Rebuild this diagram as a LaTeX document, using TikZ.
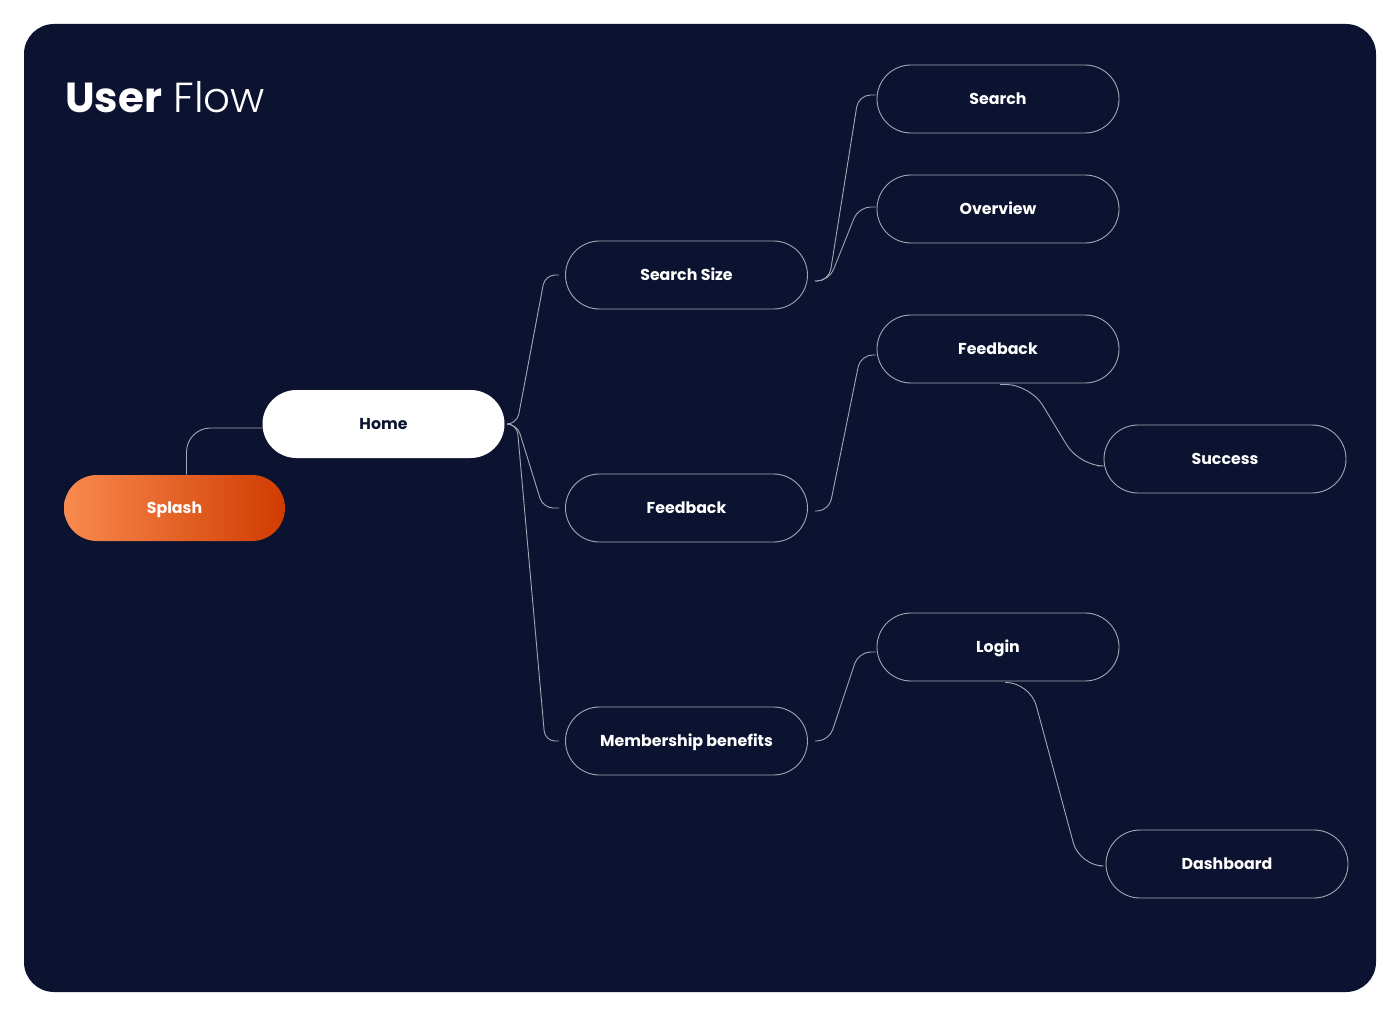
\documentclass[tikz,border=0pt]{standalone}
\usepackage{fontspec}
\setmainfont{Poppins}
\newfontfamily\lightfont{Poppins Light}
\usetikzlibrary{calc}

\definecolor{navy}{HTML}{0B1330}
\definecolor{edgegray}{HTML}{A3A7B3}
\definecolor{orangeA}{HTML}{F98A4F}
\definecolor{orangeB}{HTML}{D03C00}

\begin{document}
\begin{tikzpicture}[x=1pt, y=-1pt,
    pill/.style={draw=edgegray, line width=.9pt, rounded corners=34pt, minimum width=242pt,
      minimum height=68pt, inner sep=0pt, text height=11pt, text depth=0pt, text=white,
      font=\bfseries\fontsize{15.8}{18}\selectfont},
    link/.style={draw=edgegray, line width=.9pt, rounded corners=12pt}]
    \useasboundingbox (0,0) rectangle (1400,1016);
    \fill[white] (0,0) rectangle (1400,1016);
    \fill[navy, rounded corners=30pt] (24,24) rectangle (1376,992);

    % Titulo
    \node[anchor=base west, inner sep=0pt, text=white, font=\fontsize{42}{48}\selectfont] (title) at (65,113)
      {{\bfseries User} {\lightfont Flow}};

    % Nodos
    \node[pill, draw=none, left color=orangeA, right color=orangeB, minimum width=221pt, minimum height=66pt, rounded corners=33pt] (splash) at (174.5,508) {Splash};
    \node[pill, draw=none, fill=white, text=navy] (home) at (383.5,424) {Home};
    \node[pill] (size) at (686.5,275) {Search Size};
    \node[pill] (fbmid) at (686.5,508) {Feedback};
    \node[pill] (member) at (686.5,741) {Membership benefits};
    \node[pill] (search) at (998,99) {Search};
    \node[pill] (overview) at (998,209) {Overview};
    \node[pill] (fbright) at (998,349) {Feedback};
    \node[pill] (login) at (998,647) {Login};
    \node[pill] (success) at (1225,459) {Success};
    \node[pill] (dash) at (1227,864) {Dashboard};

    % Conectores
    \draw[link, rounded corners=24pt] ([xshift=12pt]splash.north) |- ([yshift=-4pt]home.west);

    \draw[link, rounded corners=10pt] ($(home.east)+(2,0)$) -- ++(10,0) -- ($(size.west)+(-20,0)$) -- ($(size.west)+(-6,0)$);
    \draw[link, rounded corners=10pt] ($(home.east)+(2,0)$) -- ++(10,0) -- ($(fbmid.west)+(-22,0)$) -- ($(fbmid.west)+(-6,0)$);
    \draw[link, rounded corners=10pt] ($(home.east)+(2,0)$) -- ++(10,0) -- ($(member.west)+(-20,0)$) -- ($(member.west)+(-6,0)$);

    \draw[link] ($(size.east)+(7,6)$) -- ++(14,0) -- ($(search.west)+(-18,-4)$) -- ($(search.west)+(-1,-4)$);
    \draw[link] ($(size.east)+(7,6)$) -- ++(14,0) -- ($(overview.west)+(-18,-2)$) -- ($(overview.west)+(-1,-2)$);
    \draw[link] ($(fbmid.east)+(7,3)$) -- ++(14,0) -- ($(fbright.west)+(-16,6)$) -- ($(fbright.west)+(-1,6)$);
    \draw[link] ($(member.east)+(7,0)$) -- ++(14,0) -- ($(login.west)+(-18,5)$) -- ($(login.west)+(-1,5)$);

    \draw[link, rounded corners=24pt] ($(fbright.south)+(2,1)$) -- ++(30,0) -- ($(success.west)+(-24,7)$) -- ($(success.west)+(-6,7)$);
    \draw[link, rounded corners=24pt] ($(login.south)+(7,1)$) -- ++(25,0) -- ($(dash.west)+(-26,2)$) -- ($(dash.west)+(-6,2)$);
\end{tikzpicture}
\end{document}
